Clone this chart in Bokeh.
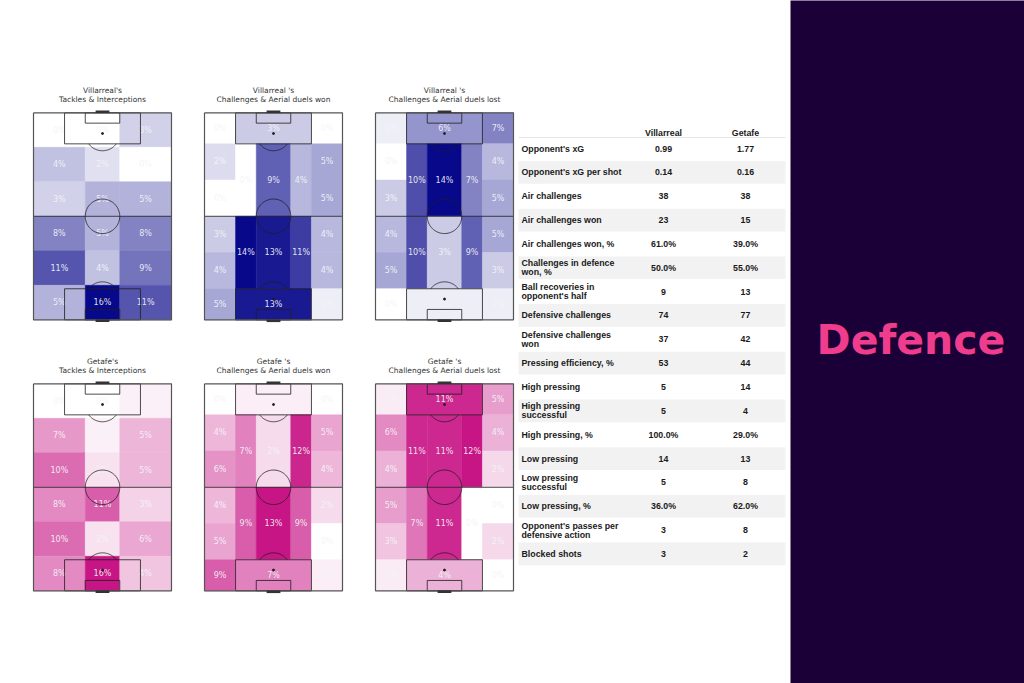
import numpy as np
from bokeh.plotting import figure
from bokeh.models import Range1d, Spacer, ColumnDataSource, LinearColorMapper
from bokeh.layouts import row, column
from bokeh.core.properties import value
from bokeh.embed import file_html
from bokeh.resources import INLINE

# ---------------- DATA ----------------
teams = ["Villarreal", "Getafe"]
panel_titles = [
    ("Villarreal's", "Tackles & Interceptions"),
    ("Villarreal 's", "Challenges & Aerial duels won"),
    ("Villarreal 's", "Challenges & Aerial duels lost"),
    ("Getafe's", "Tackles & Interceptions"),
    ("Getafe 's", "Challenges & Aerial duels won"),
    ("Getafe 's", "Challenges & Aerial duels lost"),
]
# 3x6 grid (row-major, top to bottom, left to right)
vil_tackles = [0, 0, 3, 4, 2, 0, 3, 5, 5, 8, 5, 8, 11, 4, 9, 5, 16, 11]
get_tackles = [0, 0, 1, 7, 1, 5, 10, 2, 5, 8, 11, 3, 10, 2, 6, 8, 16, 4]
# 20-zone scheme
vil_won = [0, 3, 0, 2, 0, 0, 9, 4, 5, 5, 3, 4, 14, 13, 11, 4, 4, 5, 13, 1]
vil_lost = [1, 6, 7, 0, 3, 10, 14, 7, 4, 5, 4, 5, 10, 3, 9, 5, 3, 0, 1, 1]
get_won = [0, 1, 0, 4, 6, 7, 2, 12, 5, 4, 4, 5, 9, 13, 9, 2, 0, 9, 7, 1]
get_lost = [1, 11, 5, 6, 4, 11, 11, 12, 4, 2, 5, 3, 7, 11, 0, 0, 2, 1, 4, 0]

metrics = ["Opponent's xG", "Opponent's xG per shot", "Air challenges", "Air challenges won",
           "Air challenges won, %", "Challenges in defence\nwon, %", "Ball recoveries in\nopponent's half",
           "Defensive challenges", "Defensive challenges\nwon", "Pressing efficiency, %", "High pressing",
           "High pressing\nsuccessful", "High pressing, %", "Low pressing", "Low pressing\nsuccessful",
           "Low pressing, %", "Opponent's passes per\ndefensive action", "Blocked shots"]
villarreal_vals = ["0.99", "0.14", "38", "23", "61.0%", "50.0%", "9", "74", "37", "53", "5", "5",
                   "100.0%", "14", "5", "36.0%", "3", "3"]
getafe_vals = ["1.77", "0.16", "38", "15", "39.0%", "55.0%", "13", "77", "42", "44", "14", "4",
               "29.0%", "13", "8", "62.0%", "8", "2"]
section_title = "Defence"

# ---------------- GEOMETRY / STYLE ----------------
S = 1.725  # px per pitch unit
FW, FH = 171, 271
PITCH_LEFT_PX, PITCH_TOP_PX = 30, 32.3
VIL_DARK = (8, 8, 138)
GET_DARK = (199, 21, 133)

GRID_A = [(c0, c1, r * 20, (r + 1) * 20) for r in range(6) for (c0, c1) in [(0, 30), (30, 50), (50, 80)]]
GRID_B = [(0, 18, 0, 18), (18, 62, 0, 18), (62, 80, 0, 18),
          (0, 18, 18, 39), (0, 18, 39, 60), (18, 30, 18, 60), (30, 50, 18, 60), (50, 62, 18, 60),
          (62, 80, 18, 39), (62, 80, 39, 60),
          (0, 18, 60, 81), (0, 18, 81, 102), (18, 30, 60, 102), (30, 50, 60, 102), (50, 62, 60, 102),
          (62, 80, 60, 81), (62, 80, 81, 102),
          (0, 18, 102, 120), (18, 62, 102, 120), (62, 80, 102, 120)]


def palette(dark):
    out = []
    for k in range(256):
        t = k / 255
        c = [round(255 * (1 - t) + d * t) for d in dark]
        out.append("#%02x%02x%02x" % tuple(c))
    return out


def pitch_fig(t1, t2, zones, vals, dark):
    p = figure(width=FW, height=FH,
               x_range=Range1d(-PITCH_LEFT_PX / S, (FW - PITCH_LEFT_PX) / S),
               y_range=Range1d(120 + (FH - PITCH_TOP_PX - 120 * S) / S, -PITCH_TOP_PX / S),
               x_axis_type=None, y_axis_type=None, toolbar_location=None,
               output_backend="svg", min_border=0, outline_line_color=None)
    p.background_fill_color = "white"
    mapper = LinearColorMapper(palette=palette(dark), low=0, high=max(vals))
    src = ColumnDataSource(dict(
        left=[z[0] for z in zones], right=[z[1] for z in zones],
        top=[z[2] for z in zones], bottom=[z[3] for z in zones],
        cx=[(z[0] + z[1]) / 2 for z in zones], cy=[(z[2] + z[3]) / 2 for z in zones],
        val=vals, lab=[f"{v}%" for v in vals]))
    p.quad(left='left', right='right', top='top', bottom='bottom', source=src,
           fill_color={'field': 'val', 'transform': mapper},
           line_color={'field': 'val', 'transform': mapper}, line_width=0.5)
    p.text(x='cx', y='cy', text='lab', source=src, text_color="#f4f4f8", text_alpha=0.92,
           text_font=value("DejaVu Sans"), text_font_size="8px",
           text_align="center", text_baseline="middle")
    # pitch markings
    xs, ys = [], []
    for (x0, x1, y0, y1) in [(18, 62, 0, 18), (30, 50, 0, 6), (18, 62, 102, 120), (30, 50, 114, 120)]:
        xs.append([x0, x0, x1, x1, x0]); ys.append([y0, y1, y1, y0, y0])
    xs.append([0, 80]); ys.append([60, 60])
    th = np.linspace(0, 2 * np.pi, 120)
    xs.append(list(40 + 10 * np.cos(th))); ys.append(list(60 + 10 * np.sin(th)))
    a = np.linspace(np.arcsin(0.6), np.pi - np.arcsin(0.6), 60)
    xs.append(list(40 + 10 * np.cos(a))); ys.append(list(12 + 10 * np.sin(a)))
    xs.append(list(40 + 10 * np.cos(a))); ys.append(list(108 - 10 * np.sin(a)))
    p.multi_line(xs, ys, line_color="#1e1e1e", line_width=0.8)
    p.multi_line([[0, 80, 80, 0, 0]], [[0, 0, 120, 120, 0]], line_color="#555555", line_width=1.2)
    p.multi_line([[36, 44], [36, 44]], [[-0.6, -0.6], [120.6, 120.6]], line_color="#333333", line_width=2.5)
    p.scatter([40, 40], [12, 108], size=2, color="#1e1e1e")
    p.text(x=[40, 40], y=[-12.9, -7.7], text=[t1, t2], text_color="#333333",
           text_font=value("DejaVu Sans"), text_font_size="7.5px",
           text_align="center", text_baseline="middle")
    return p


panels = [
    (GRID_A, vil_tackles, VIL_DARK), (GRID_B, vil_won, VIL_DARK), (GRID_B, vil_lost, VIL_DARK),
    (GRID_A, get_tackles, GET_DARK), (GRID_B, get_won, GET_DARK), (GRID_B, get_lost, GET_DARK),
]
figs = [pitch_fig(panel_titles[i][0], panel_titles[i][1], *panels[i]) for i in range(6)]

# ---------------- TABLE ----------------
ROW0_PX, ROW_PX = 148, 23.85
tbl = figure(width=274, height=683, x_range=Range1d(516, 790),
             y_range=Range1d((683 - ROW0_PX) / ROW_PX, -ROW0_PX / ROW_PX),
             x_axis_type=None, y_axis_type=None, toolbar_location=None,
             output_backend="svg", min_border=0, outline_line_color=None)
n = len(metrics)
odd = [i for i in range(n) if i % 2 == 1]
tbl.rect(x=651.5, y=odd, width=267, height=0.95, fill_color="#f2f2f2", line_color=None)
tbl.segment(x0=[518], x1=[785], y0=[-0.46], y1=[-0.46], line_color="#e6e6e6", line_width=1)
font = value("Liberation Sans")
tbl.text(x=[663, 745], y=[-0.63, -0.63], text=teams, text_font=font, text_font_style="bold",
         text_font_size="8.8px", text_color="#1a1a1a", text_align="center", text_baseline="middle")
lx, ly, lt = [], [], []
for i, m in enumerate(metrics):
    parts = m.split("\n")
    if len(parts) == 1:
        lx.append(521); ly.append(i); lt.append(m)
    else:
        lx += [521, 521]; ly += [i - 0.19, i + 0.19]; lt += parts
tbl.text(x=lx, y=ly, text=lt, text_font=font, text_font_style="bold", text_font_size="8.8px",
         text_color="#1a1a1a", text_align="left", text_baseline="middle")
tbl.text(x=[663] * n, y=list(range(n)), text=villarreal_vals, text_font=font, text_font_style="bold",
         text_font_size="8.8px", text_color="#1a1a1a", text_align="center", text_baseline="middle")
tbl.text(x=[745] * n, y=list(range(n)), text=getafe_vals, text_font=font, text_font_style="bold",
         text_font_size="8.8px", text_color="#1a1a1a", text_align="center", text_baseline="middle")

# ---------------- RIGHT PANEL ----------------
rp = figure(width=234, height=683, x_range=Range1d(790, 1024), y_range=Range1d(683, 0),
            x_axis_type=None, y_axis_type=None, toolbar_location=None,
            output_backend="svg", min_border=0, outline_line_color=None)
rp.background_fill_color = "#1a0036"
rp.border_fill_color = "#1a0036"
rp.text(x=[910.5], y=[339], text=[section_title], text_font=value("DejaVu Sans"), text_font_style="bold",
        text_font_size="41px", text_color="#f03c8c", text_align="center", text_baseline="middle")

left = column(Spacer(width=516, height=80),
              row(Spacer(width=3, height=FH), figs[0], figs[1], figs[2]),
              row(Spacer(width=3, height=FH), figs[3], figs[4], figs[5]),
              Spacer(width=516, height=683 - 80 - 2 * FH))
layout = row(left, tbl, rp)

open("out.html", "w").write(file_html(layout, INLINE))
